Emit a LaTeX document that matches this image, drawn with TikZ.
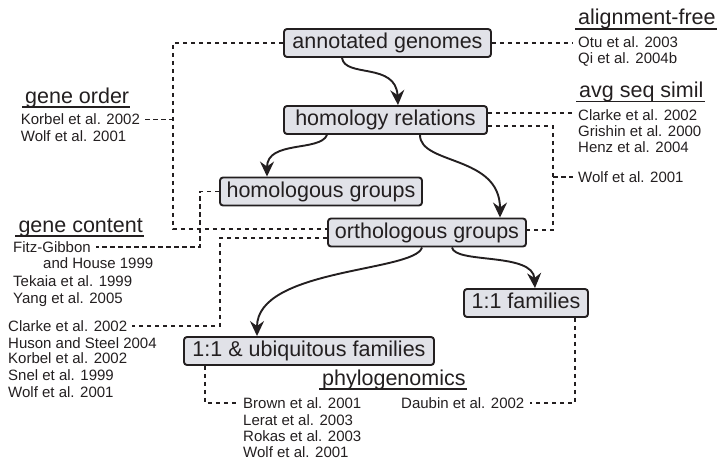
\documentclass[tikz,border=0pt]{standalone}
\usepackage{fontspec}
\setmainfont{Liberation Sans}
\usetikzlibrary{arrows.meta}
\definecolor{ink}{RGB}{35,31,32}
\definecolor{boxfill}{RGB}{225,226,232}
\tikzset{
  box/.style={draw=ink, fill=boxfill, line width=1.9pt, rounded corners=3pt,
    minimum height=28pt, inner sep=0pt, font=\fontsize{21.5}{24}\selectfont,
    text=ink, text height=15.5pt, text depth=4.5pt},
  ref/.style={anchor=base west, inner sep=0pt, font=\fontsize{15}{16}\selectfont, text=ink},
  head/.style={anchor=base west, inner sep=0pt, font=\fontsize{21.5}{24}\selectfont, text=ink},
  uline/.style={draw=ink, line width=1.5pt},
  link/.style={draw=ink, line width=1.8pt, dash pattern=on 4.5pt off 3.5pt},
  flow/.style={draw=ink, line width=1.9pt, -{Stealth[length=15pt,width=14pt,inset=5pt]}},
}
\begin{document}
\begin{tikzpicture}[x=1pt,y=-1pt]
\useasboundingbox (0,0) rectangle (719,460);

% boxes
\node[box, minimum width=207pt] (ag) at (387.5,43) {annotated genomes};
\node[box, minimum width=203pt] (hr) at (385.5,120) {homology relations};
\node[box, minimum width=202pt] (hg) at (321,191.5) {homologous groups};
\node[box, minimum width=198pt] (og) at (427,232.5) {orthologous groups};
\node[box, minimum width=124pt] (ff) at (526,303) {1:1 families};
\node[box, minimum width=250pt] (uf) at (309,351) {1:1 \& ubiquitous families};

% headings
\node[head] (hgo) at (25,103) {gene order};
\node[head] (hgc) at (18.3,232) {gene content};
\node[head] (haf) at (578,25) {alignment-free};
\node[head] (has) at (579,97.5) {avg seq simil};
\node[head] (hph) at (322,385) {phylogenomics};
\foreach \h in {hgo,hgc,haf,has,hph}
  \draw[uline] ([xshift=-3pt,yshift=-4pt]\h.base west) -- ([xshift=1pt,yshift=-4pt]\h.base east);

% references left
\node[ref] (kor1) at (20.7,124.8) {Korbel et al. 2002};
\node[ref] (wol1) at (20.7,141.3) {Wolf et al. 2001};
\node[ref] (fitz) at (13,252.3) {Fitz-Gibbon};
\node[ref] (hous) at (43,268.3) {and House 1999};
\node[ref] (teka) at (13,286.3) {Tekaia et al. 1999};
\node[ref] (yang) at (13,303.3) {Yang et al. 2005};
\node[ref] (cla1) at (8,331.3) {Clarke et al. 2002};
\node[ref] (huso) at (8,348.3) {Huson and Steel 2004};
\node[ref] (kor2) at (8,363.3) {Korbel et al. 2002};
\node[ref] (snel) at (8,380.3) {Snel et al. 1999};
\node[ref] (wol2) at (8,397.3) {Wolf et al. 2001};
% references right
\node[ref] (otu) at (578,47.3) {Otu et al. 2003};
\node[ref] (qi) at (578,63.3) {Qi et al. 2004b};
\node[ref] (cla2) at (578,120.3) {Clarke et al. 2002};
\node[ref] (gris) at (578,136.3) {Grishin et al. 2000};
\node[ref] (henz) at (578,152.3) {Henz et al. 2004};
\node[ref] (wol3) at (578,182.3) {Wolf et al. 2001};
% references bottom
\node[ref] (brow) at (243,408.3) {Brown et al. 2001};
\node[ref] (lera) at (243,425.3) {Lerat et al. 2003};
\node[ref] (roka) at (243,441.3) {Rokas et al. 2003};
\node[ref] (wol4) at (243,457.3) {Wolf et al. 2001};
\node[ref] (daub) at (401,408.3) {Daubin et al. 2002};

% dashed links
\coordinate (p1) at (173,43);
\coordinate (p2) at (173,229);
\draw[link] (ag.west) -- (p1) -- (p2) -- (p2 -| og.west);
\draw[link] ([xshift=5pt]kor1.east) -- (kor1.east -| p1);

\coordinate (q1) at (200,191.5);
\coordinate (q2) at (200,247);
\draw[link] (hg.west) -- (q1) -- (q2) -- ([xshift=5pt]fitz.east |- q2);

\coordinate (r1) at (220,238);
\coordinate (r2) at (220,326);
\draw[link] (og.west |- r1) -- (r1) -- (r2) -- ([xshift=5pt]cla1.east |- r2);

\draw[link] (ag.east) -- ([xshift=-5pt]otu.west |- ag.east);

\coordinate (s1) at (488,113);
\draw[link] (hr.east |- s1) -- ([xshift=-5pt]cla2.west |- s1);

\coordinate (t1) at (553,126);
\coordinate (t2) at (553,230);
\coordinate (t3) at (553,177);
\draw[link] (hr.east |- t1) -- (t1) -- (t2) -- (t2 -| og.east);
\draw[link] (t3) -- ([xshift=-5pt]wol3.west |- t3);

\coordinate (u1) at (575,403);
\draw[link] (ff.south -| u1) -- (u1) -- ([xshift=5pt]daub.east |- u1);

\coordinate (w1) at (205,403);
\draw[link] (uf.south -| w1) -- (w1) -- ([xshift=-5pt]brow.west |- w1);

% flow arrows
\draw[flow] ([xshift=-45.5pt]ag.south) .. controls (345,78) and (396,62) .. ([xshift=12.5pt]hr.north);
\draw[flow] ([xshift=-58.5pt]hr.south) .. controls (320,152) and (267,140) .. ([xshift=-54pt]hg.north);
\draw[flow] ([xshift=34.5pt]hr.south) .. controls (420,165) and (500,155) .. ([xshift=73pt]og.north);
\draw[flow] ([xshift=-5pt]og.south) .. controls (415,272) and (257,268) .. ([xshift=-52pt]uf.north);
\draw[flow] ([xshift=25pt]og.south) .. controls (455,264) and (533,252) .. ([xshift=9pt]ff.north);
\end{tikzpicture}
\end{document}
